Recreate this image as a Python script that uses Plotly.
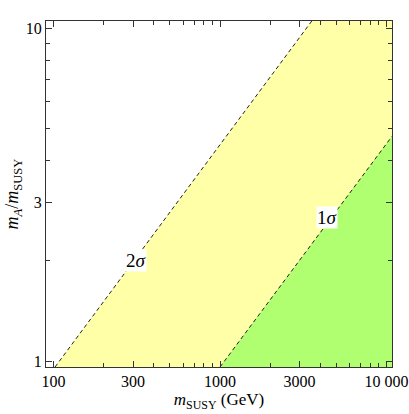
import math
import plotly.graph_objects as go

# ---- data ----
x_range = [90, 10800]          # m_SUSY axis limits (GeV)
y_range = [0.96, 10.5]         # m_A/m_SUSY axis limits

sigma2_msusy = [102, 3560]     # 2σ boundary
sigma2_ratio = [0.96, 10.5]
sigma1_msusy = [1000, 10800]   # 1σ boundary
sigma1_ratio = [0.96, 4.73]

x_major = [100, 300, 1000, 3000, 10000]
x_major_text = ["100", "300", "1000", "3000", "10 000"]
x_minor = [200, 400, 500, 600, 700, 800, 900,
           2000, 4000, 5000, 6000, 7000, 8000, 9000]
y_major = [1, 3, 10]
y_major_text = ["1", "3", "10"]
y_minor = [2, 4, 5, 6, 7, 8, 9]

label_2sigma = (311, 2.0)
label_1sigma = (4385, 2.70)

YELLOW = "#FFFFA8"
GREEN = "#B0FF70"
FONT = "Liberation Serif"

fig = go.Figure()

# yellow band: right of the 2σ line
fig.add_trace(go.Scatter(
    x=sigma2_msusy + [x_range[1], x_range[1]],
    y=sigma2_ratio + [y_range[1], y_range[0]],
    fill="toself", fillcolor=YELLOW, mode="none", hoverinfo="skip",
    showlegend=False))
# green region: right of the 1σ line
fig.add_trace(go.Scatter(
    x=sigma1_msusy + [x_range[1]],
    y=sigma1_ratio + [y_range[0]],
    fill="toself", fillcolor=GREEN, mode="none", hoverinfo="skip",
    showlegend=False))
# dashed boundaries
for xs, ys in [(sigma2_msusy, sigma2_ratio), (sigma1_msusy, sigma1_ratio)]:
    fig.add_trace(go.Scatter(
        x=xs, y=ys, mode="lines",
        line=dict(color="#222222", width=1, dash="4px,3px"),
        showlegend=False, hoverinfo="skip"))

for (lx, ly), txt in [(label_2sigma, "2<i>σ</i>"), (label_1sigma, "1<i>σ</i>")]:
    fig.add_annotation(x=math.log10(lx), y=math.log10(ly), text=txt,
                       showarrow=False, bgcolor="white", borderpad=0,
                       font=dict(family=FONT, size=19, color="black"))

axis_common = dict(
    showgrid=False, zeroline=False, showline=True, linecolor="#333333",
    linewidth=1, mirror="ticks", ticks="inside", ticklen=6, tickwidth=1,
    tickcolor="#333333", tickfont=dict(family=FONT, size=16, color="black"),
    automargin=False,
)

fig.update_xaxes(
    type="log", range=[math.log10(v) for v in x_range],
    tickmode="array", tickvals=x_major, ticktext=x_major_text,
    minor=dict(tickmode="array", tickvals=x_minor, ticks="inside",
               ticklen=4, tickcolor="#333333", showgrid=False),
    title=dict(text="<i>m</i><sub>SUSY</sub> (GeV)",
               font=dict(family=FONT, size=17, color="black"), standoff=2),
    **axis_common)
fig.update_yaxes(
    type="log", range=[math.log10(v) for v in y_range],
    tickmode="array", tickvals=y_major, ticktext=y_major_text,
    minor=dict(tickmode="array", tickvals=y_minor, ticks="inside",
               ticklen=4, tickcolor="#333333", showgrid=False),
    title=dict(text="<i>m</i><sub><i>A</i></sub>/<i>m</i><sub>SUSY</sub>",
               font=dict(family=FONT, size=18, color="black"), standoff=2),
    **axis_common)

fig.update_layout(
    width=409, height=414,
    margin=dict(l=46, r=17, t=21, b=47),
    plot_bgcolor="white", paper_bgcolor="white",
)

# remove the default page margin so the figure fills the window exactly
fig.write_html("out.html",
               config={"displayModeBar": False},
               post_script="document.body.style.margin='0';"
                           "document.body.style.overflow='hidden';")
